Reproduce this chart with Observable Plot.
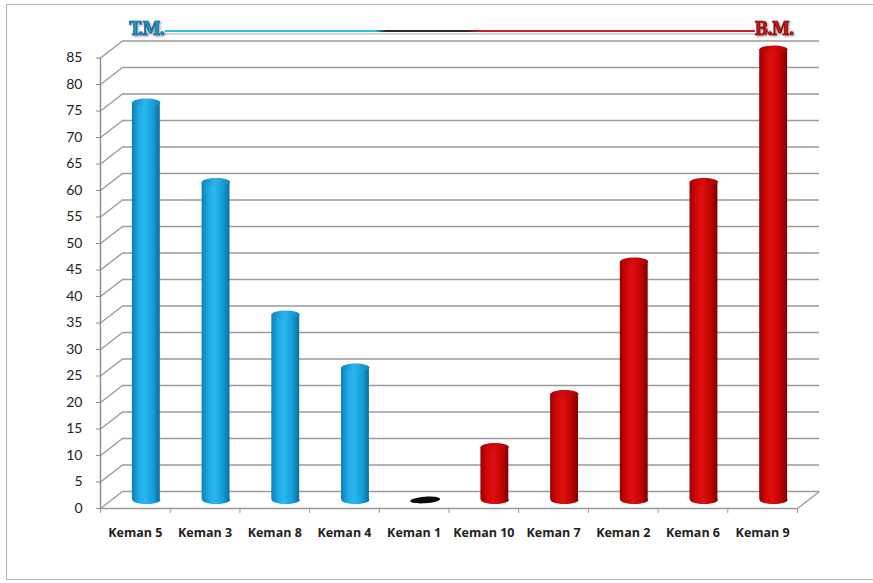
<!DOCTYPE html>
<html>
<head>
<meta charset="utf-8">
<script src="https://cdn.jsdelivr.net/npm/d3@7"></script>
<script src="https://cdn.jsdelivr.net/npm/@observablehq/plot@0.6"></script>
<style>
  html, body { margin: 0; padding: 0; background: #fff; }
  #wrap { position: relative; width: 873px; height: 583px; overflow: hidden; }
  #frame { position: absolute; left: 6px; top: 4px; width: 900px; height: 576px; border: 1.5px solid #b0b0b0; box-sizing: border-box; }
  #chart { position: absolute; left: 0; top: 0; }
  .hdr { filter: drop-shadow(1px 1.5px 1px rgba(0,0,0,0.5)); }
</style>
</head>
<body>
<div id="wrap"><div id="frame"></div><div id="chart"></div></div>
<script>
const categories = ["Keman 5","Keman 3","Keman 8","Keman 4","Keman 1","Keman 10","Keman 7","Keman 2","Keman 6","Keman 9"];
const values = [75, 60, 35, 25, 0, 10, 20, 45, 60, 85];
const groups = ["T.M.","T.M.","T.M.","T.M.","","B.M.","B.M.","B.M.","B.M.","B.M."];
const yTicks = d3.range(0, 86, 5);
const groupLabels = ["T.M.", "B.M."];

const W = 873, H = 583;
const mL = 100, mR = 76, mT = 57.5, mB = 75;
// 3D depth of the back wall in pixels and as scale units
const depthPx = {x: 22, y: -17};
const unitX = (W - mL - mR) / categories.length;
const unitY = (H - mT - mB) / 85;
const DX = depthPx.x / unitX, DY = -depthPx.y / unitY;

const data = categories.map((c, i) => ({c, i, v: values[i], g: groups[i]}));
const bars = data.filter(d => d.v > 0);
const flat = data.filter(d => d.v === 0);

const bodyFill = g => g === "T.M." ? "url(#cylBlue)" : g === "B.M." ? "url(#cylRed)" : "#111";
const topFill = g => g === "T.M." ? "url(#topBlue)" : g === "B.M." ? "url(#topRed)" : "#0a0a0a";

const ellipse = {
  draw(ctx, size) {
    const rx = Math.sqrt(size / Math.PI), ry = rx * 0.29, k = 0.5523;
    ctx.moveTo(-rx, 0);
    ctx.bezierCurveTo(-rx, -ry * k, -rx * k, -ry, 0, -ry);
    ctx.bezierCurveTo(rx * k, -ry, rx, -ry * k, rx, 0);
    ctx.bezierCurveTo(rx, ry * k, rx * k, ry, 0, ry);
    ctx.bezierCurveTo(-rx * k, ry, -rx, ry * k, -rx, 0);
    ctx.closePath();
  }
};
const flatEllipse = {
  draw(ctx, size) {
    const rx = Math.sqrt(size / Math.PI), ry = rx * 0.22, k = 0.5523;
    ctx.moveTo(-rx, 0);
    ctx.bezierCurveTo(-rx, -ry * k, -rx * k, -ry, 0, -ry);
    ctx.bezierCurveTo(rx * k, -ry, rx, -ry * k, rx, 0);
    ctx.bezierCurveTo(rx, ry * k, rx * k, ry, 0, ry);
    ctx.bezierCurveTo(-rx * k, ry, -rx, ry * k, -rx, 0);
    ctx.closePath();
  }
};

const mid = {dx: depthPx.x / 2, dy: depthPx.y / 2};

const plot = Plot.plot({
  width: W, height: H,
  marginLeft: mL, marginRight: mR, marginTop: mT, marginBottom: mB,
  x: {domain: [0, categories.length], axis: null},
  y: {domain: [0, 85], axis: null},
  color: {type: "identity"},
  style: {fontFamily: "Lato, 'Open Sans', sans-serif", background: "transparent", overflow: "visible"},
  marks: [
    // back wall gridlines
    Plot.ruleY(yTicks, {dx: depthPx.x, dy: depthPx.y, stroke: "#9a9a9a", strokeWidth: 1.6}),
    // side wall diagonals
    Plot.link(yTicks, {x1: 0, y1: d => d, x2: DX, y2: d => d + DY, stroke: "#9a9a9a", strokeWidth: 1.4}),
    // right floor diagonal
    Plot.link([0], {x1: categories.length, y1: 0, x2: categories.length + DX, y2: DY, stroke: "#9a9a9a", strokeWidth: 1.4}),
    // front axis line and baseline
    Plot.ruleX([0], {y1: 0, y2: 85, stroke: "#8a8a8a", strokeWidth: 1.4}),
    Plot.ruleY([0], {x1: 0, x2: categories.length, stroke: "#9a9a9a", strokeWidth: 1.6}),
    // y axis
    Plot.axisY(yTicks, {tickSize: 4, tickPadding: 14, stroke: "#8a8a8a", fontSize: 14, fill: "#222", label: null}),
    // category boundary ticks
    Plot.axisX(d3.range(0, categories.length + 1), {tickSize: 5, tickFormat: () => "", stroke: "#9a9a9a", label: null}),
    // category labels
    Plot.axisX(d3.range(categories.length).map(i => i + 0.5), {tickSize: 0, tickPadding: 20, tickFormat: d => categories[Math.floor(d)], fontSize: 12.5, fontWeight: "bold", fontFamily: "'Open Sans', sans-serif", fill: "#222", label: null}),
    // cylinders: bottom, body, top
    Plot.dot(bars, {x: d => d.i + 0.5, y: 0, ...mid, r: 14, symbol: ellipse, fill: d => bodyFill(d.g), stroke: null}),
    Plot.rectY(bars, {x1: d => d.i + 0.3, x2: d => d.i + 0.7, y1: 0, y2: "v", ...mid, fill: d => bodyFill(d.g)}),
    Plot.dot(bars, {x: d => d.i + 0.5, y: "v", ...mid, r: 14, symbol: ellipse, fill: d => topFill(d.g), stroke: null}),
    Plot.dot(flat, {x: d => d.i + 0.5, y: "v", ...mid, r: 15, symbol: flatEllipse, rotate: -4, fill: d => topFill(d.g), stroke: null})
  ]
});

const svg = d3.select(plot);
const defs = svg.insert("defs", ":first-child");
function hgrad(id, stops) {
  const g = defs.append("linearGradient").attr("id", id).attr("x1", 0).attr("x2", 1).attr("y1", 0).attr("y2", 0);
  stops.forEach(([o, c]) => g.append("stop").attr("offset", o).attr("stop-color", c));
}
hgrad("cylBlue", [[0, "#0b7fb8"], [0.25, "#1faae4"], [0.45, "#2bb7ef"], [0.75, "#149fd9"], [1, "#0a6e9f"]]);
hgrad("cylRed", [[0, "#9a0000"], [0.25, "#d40808"], [0.45, "#de1010"], [0.75, "#c40202"], [1, "#7e0000"]]);
hgrad("topBlue", [[0, "#0f86bd"], [0.45, "#2cb4ea"], [1, "#0f86bd"]]);
hgrad("topRed", [[0, "#a80000"], [0.45, "#d80c0c"], [1, "#a80000"]]);
hgrad("hdrLine", [[0, "#2fc3e3"], [0.355, "#2fc3e3"], [0.375, "#2a2a2a"], [0.51, "#2a2a2a"], [0.535, "#d41c2c"], [1, "#d41c2c"]]);

// header legend: T.M. ---- B.M.
const xs = plot.scale("x");
const hdrY = 31;
const xL = xs.apply(0.67), xR = xs.apply(9.67);
const hdr = svg.append("g");
hdr.append("line").attr("x1", xL + 18).attr("x2", xR - 19).attr("y1", hdrY + 3).attr("y2", hdrY + 3).attr("stroke", "#d6d6d6").attr("stroke-width", 2);
hdr.append("line").attr("x1", xL + 18).attr("x2", xR - 19).attr("y1", hdrY).attr("y2", hdrY + 0.01).attr("stroke", "url(#hdrLine)").attr("stroke-width", 2);
hdr.selectAll("text").data(groupLabels).join("text")
  .attr("class", "hdr")
  .attr("x", (d, i) => i === 0 ? xL : xR)
  .attr("y", hdrY - 2)
  .attr("dy", "0.35em")
  .attr("text-anchor", "middle")
  .attr("font-family", "'DejaVu Serif Condensed', 'DejaVu Serif', serif")
  .attr("font-weight", "bold")
  .attr("font-size", 18)
  .attr("letter-spacing", -1)
  .attr("fill", (d, i) => i === 0 ? "#1d97cf" : "#c81818")
  .attr("stroke", (d, i) => i === 0 ? "#0b5f8a" : "#7a0000")
  .attr("stroke-width", 0.7)
  .text(d => d);

document.getElementById("chart").appendChild(plot);
</script>
</body>
</html>
